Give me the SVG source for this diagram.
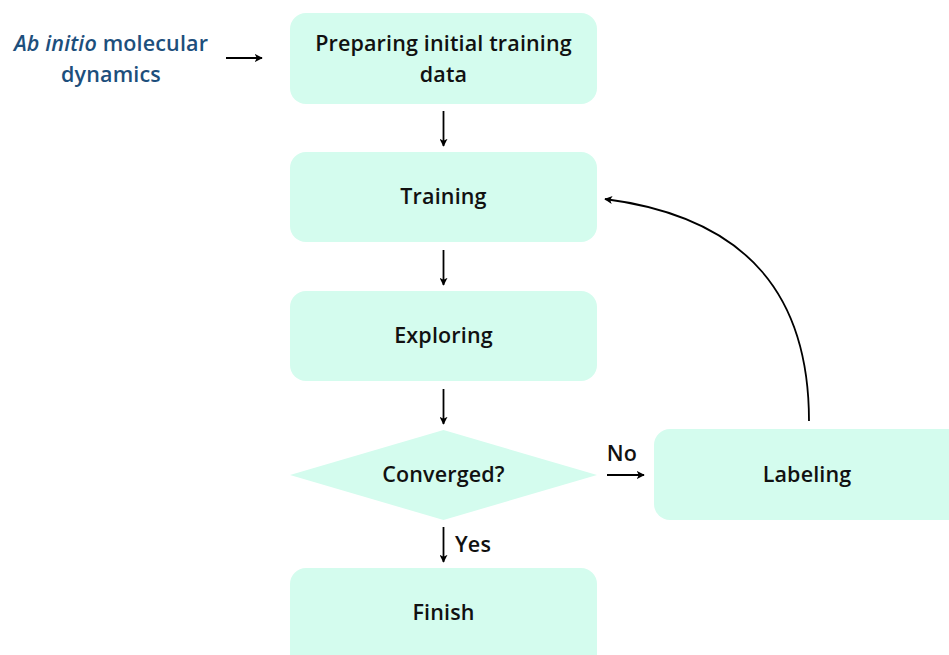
<svg xmlns="http://www.w3.org/2000/svg" width="949" height="655" viewBox="0 0 949 655">
<style>
.node{fill:#d4fcee;}
.t{font-family:"Open Sans",Lato,sans-serif;font-weight:600;font-size:21.5px;letter-spacing:0.15px;fill:#111;text-anchor:middle;}
.b{fill:#1d4f7c;}
.c{fill:none;stroke:#000;stroke-width:1.8;}
</style>
<defs>
<marker id="ah" viewBox="0 0 10 10" refX="9" refY="5" markerWidth="8" markerHeight="8" markerUnits="userSpaceOnUse" orient="auto">
<path d="M0,0 L10,5 L0,10 L2.5,5 Z" fill="#000"/>
</marker>
</defs>
<rect width="949" height="655" fill="#fff"/>
<g id="source">
<text class="t b" x="111" y="51"><tspan font-style="italic">Ab initio</tspan> molecular</text>
<text class="t b" x="111" y="82">dynamics</text>
</g>
<g id="prep">
<rect class="node" x="290" y="13" width="307" height="91" rx="16"/>
<text class="t" x="443.5" y="51">Preparing initial training</text>
<text class="t" x="443.5" y="82">data</text>
</g>
<g id="training">
<rect class="node" x="290" y="152" width="307" height="90" rx="16"/>
<text class="t" x="443.5" y="204">Training</text>
</g>
<g id="exploring">
<rect class="node" x="290" y="291" width="307" height="90" rx="16"/>
<text class="t" x="443.5" y="343">Exploring</text>
</g>
<g id="converged">
<polygon class="node" points="443.5,430 597,475 443.5,520 290,475"/>
<text class="t" x="443.5" y="482">Converged?</text>
</g>
<g id="labeling">
<rect class="node" x="654" y="429" width="320" height="91" rx="16"/>
<text class="t" x="807" y="482">Labeling</text>
</g>
<g id="finish">
<rect class="node" x="290" y="568" width="307" height="110" rx="16"/>
<text class="t" x="443.5" y="620">Finish</text>
</g>
<g id="connectors">
<line class="c" x1="226" y1="58" x2="262" y2="58" marker-end="url(#ah)"/>
<line class="c" x1="443.5" y1="111" x2="443.5" y2="146" marker-end="url(#ah)"/>
<line class="c" x1="443.5" y1="250" x2="443.5" y2="285" marker-end="url(#ah)"/>
<line class="c" x1="443.5" y1="389" x2="443.5" y2="424" marker-end="url(#ah)"/>
<line class="c" x1="443.5" y1="527" x2="443.5" y2="562" marker-end="url(#ah)"/>
<line class="c" x1="607" y1="475" x2="644" y2="475" marker-end="url(#ah)"/>
<path class="c" d="M809,421 C809,300 752,218 605,199" marker-end="url(#ah)"/>
<text class="t" x="473" y="552">Yes</text>
<text class="t" x="622" y="461">No</text>
</g>
</svg>
